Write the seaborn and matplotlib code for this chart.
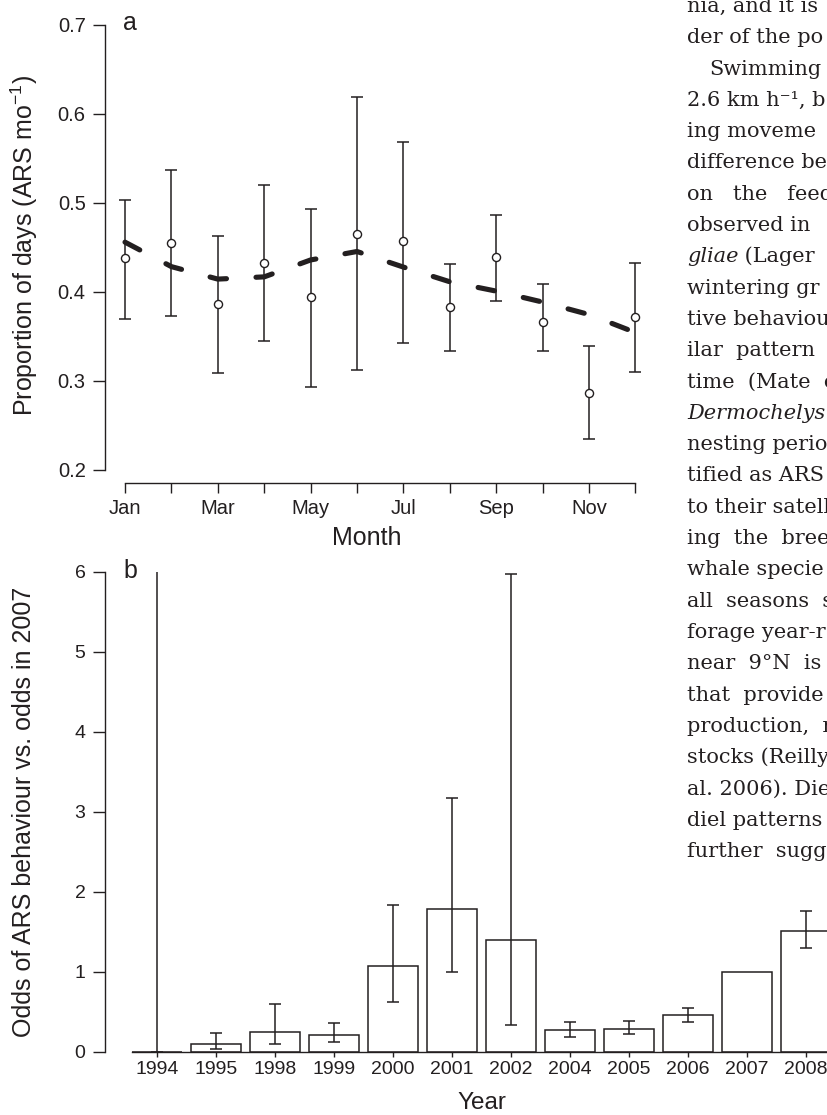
import numpy as np
import seaborn as sns
import matplotlib.pyplot as plt

# panel a: proportion of days in ARS by month
months = ['Jan', 'Feb', 'Mar', 'Apr', 'May', 'Jun', 'Jul', 'Aug', 'Sep', 'Oct', 'Nov', 'Dec']
month_num = list(range(1, 13))
prop_obs = [0.438, 0.455, 0.386, 0.433, 0.394, 0.465, 0.457, 0.383, 0.439, 0.366, 0.287, 0.372]
prop_lo = [0.370, 0.373, 0.309, 0.345, 0.293, 0.312, 0.343, 0.334, 0.390, 0.334, 0.235, 0.310]
prop_hi = [0.503, 0.537, 0.463, 0.520, 0.493, 0.619, 0.569, 0.432, 0.486, 0.409, 0.339, 0.433]
prop_fit = [0.456, 0.4285, 0.4145, 0.417, 0.436, 0.4455, 0.428, 0.4115, 0.401, 0.3887, 0.3747, 0.3545]

# panel b: odds of ARS behaviour relative to 2007
years = ['1994', '1995', '1998', '1999', '2000', '2001', '2002', '2004', '2005', '2006', '2007', '2008']
odds = [0.0, 0.104, 0.25, 0.217, 1.071, 1.783, 1.40, 0.271, 0.292, 0.458, 1.0, 1.5125]
odds_lo = [0.0, 0.042, 0.104, 0.121, 0.625, 1.0, 0.333, 0.1875, 0.225, 0.375, np.nan, 1.296]
odds_hi = [6.5, 0.2375, 0.596, 0.3625, 1.833, 3.17, 5.98, 0.379, 0.392, 0.546, np.nan, 1.7625]  # 1994 runs off the top

# body text of the page to the right of the figure
text_lines = [
    'nia, and it is', 'der of the po', 'Swimming', '2.6 km h\u207b\u00b9, b', 'ing moveme',
    'difference be', 'on   the   feed', 'observed in', ('gliae', ' (Lager'), 'wintering gr',
    'tive behaviou', 'ilar  pattern  o', 'time  (Mate  e', ('Dermochelys', ''), 'nesting perio',
    'tified as ARS', 'to their satell', 'ing  the  bree', 'whale specie', 'all  seasons  s',
    'forage year-r', 'near  9\u00b0N  is', 'that  provide', 'production,  r', 'stocks (Reilly',
    'al. 2006). Die', 'diel patterns', 'further  sugg',
]

ink = '#231f20'
W, H = 827, 1115

sns.set_theme(style='ticks')
plt.rcParams['font.family'] = ['Liberation Sans', 'DejaVu Sans']
plt.rcParams['mathtext.fontset'] = 'custom'
plt.rcParams['mathtext.rm'] = 'Liberation Sans'
plt.rcParams['mathtext.it'] = 'Liberation Sans:italic'
plt.rcParams['lines.scale_dashes'] = False
plt.rcParams['axes.edgecolor'] = ink
plt.rcParams['xtick.color'] = ink
plt.rcParams['ytick.color'] = ink
plt.rcParams['text.color'] = ink
plt.rcParams['axes.labelcolor'] = ink

fig = plt.figure(figsize=(W / 100, H / 100), dpi=100)
fig.patch.set_facecolor('white')


def box(x0, y0, x1, y1):
    # pixel box (top-left origin) -> figure fraction rect
    return [x0 / W, 1 - y1 / H, (x1 - x0) / W, (y1 - y0) / H]


# ---- panel a ----
ax_a = fig.add_axes(box(104.6, 7.2, 655.8, 483))
ax_a.set_facecolor('none')
lo = np.array(prop_obs) - np.array(prop_lo)
hi = np.array(prop_hi) - np.array(prop_obs)
ax_a.errorbar(month_num, prop_obs, yerr=[lo, hi], fmt='none', ecolor=ink,
              elinewidth=1.1, capsize=4.3, capthick=1.1, zorder=2)
sns.lineplot(x=month_num, y=prop_fit, ax=ax_a, color=ink, linewidth=3.7,
             linestyle=(0, (12, 21.3)), dash_capstyle='round', sort=False, zorder=3)
sns.scatterplot(x=month_num, y=prop_obs, ax=ax_a, marker='o', s=34,
                facecolor='white', edgecolor=ink, linewidth=1.0, zorder=4)
ax_a.set_xlim(0.56, 12.44)
ax_a.set_ylim(0.18539, 0.72)
ax_a.set_xticks(month_num)
ax_a.set_xticklabels([m if i % 2 == 0 else '' for i, m in enumerate(months)], fontsize=14.5)
ax_a.set_yticks([0.2, 0.3, 0.4, 0.5, 0.6, 0.7])
ax_a.set_yticklabels(['0.2', '0.3', '0.4', '0.5', '0.6', '0.7'], fontsize=14.5)
ax_a.tick_params(axis='x', length=7.2, width=1.0, pad=4)
ax_a.tick_params(axis='y', length=8.6, width=1.0, pad=5)
sns.despine(ax=ax_a)
ax_a.spines['left'].set_bounds(0.2, 0.7)
ax_a.spines['bottom'].set_bounds(1, 12)
for s in ('left', 'bottom'):
    ax_a.spines[s].set_linewidth(1.0)
ax_a.set_xlabel('Month', fontsize=18)
ax_a.xaxis.label.set_va('baseline')
ax_a.xaxis.set_label_coords((366.5 - 104.6) / 551.2, (483 - 545) / 475.8)
ax_a.set_ylabel(r'Proportion of days (ARS mo$^{-1}$)', fontsize=18)
ax_a.yaxis.label.set_va('center')
ax_a.yaxis.set_label_coords((24 - 104.6) / 551.2, 0.5)
fig.text(123 / W, 1 - 30 / H, 'a', fontsize=18, va='baseline')

# ---- panel b ----
ax_b = fig.add_axes(box(105, 572, 841.4, 1052))
ax_b.set_facecolor('none')
sns.barplot(x=years, y=odds, ax=ax_b, color='white', edgecolor=ink, linewidth=1.1,
            width=0.85, errorbar=None, saturation=1, zorder=2)
pos = np.arange(len(years))
ok = ~np.isnan(np.array(odds_lo))
ob = np.array(odds)
ax_b.errorbar(pos[ok], ob[ok], yerr=[ob[ok] - np.array(odds_lo)[ok], np.array(odds_hi)[ok] - ob[ok]],
              fmt='none', ecolor=ink, elinewidth=1.1, capsize=4.3, capthick=1.1, zorder=3)
ax_b.set_xlim(-0.881, 11.6)
ax_b.set_ylim(0, 6)
ax_b.set_xticks(pos)
ax_b.set_xticklabels(years, fontsize=14)
ax_b.set_yticks(range(7))
ax_b.set_yticklabels([str(v) for v in range(7)], fontsize=14)
ax_b.tick_params(axis='x', length=3.8, width=1.0, pad=2.5)
ax_b.tick_params(axis='y', length=9.0, width=1.0, pad=5)
sns.despine(ax=ax_b)
ax_b.spines['left'].set_bounds(0, 6)
ax_b.spines['bottom'].set_bounds(-0.425, 11.6)
for s in ('left', 'bottom'):
    ax_b.spines[s].set_linewidth(1.0)
ax_b.set_xlabel('Year', fontsize=17.5)
ax_b.xaxis.label.set_va('baseline')
ax_b.xaxis.set_label_coords((482 - 105) / 736.4, (1052 - 1109) / 480)
ax_b.set_ylabel('Odds of ARS behaviour vs. odds in 2007', fontsize=18)
ax_b.yaxis.label.set_va('center')
ax_b.yaxis.set_label_coords((24 - 105) / 736.4, 0.5)
fig.text(123 / W, 1 - 578 / H, 'b', fontsize=18, va='baseline')

# ---- running text on the right ----
renderer = fig.canvas.get_renderer()
serif = dict(family='DejaVu Serif', fontsize=15, va='baseline', color=ink)
for i, line in enumerate(text_lines):
    y = 1 - (12 + 31.3 * i) / H
    x = 709 if i == 2 else 687
    if isinstance(line, tuple):
        t = fig.text(x / W, y, line[0], style='italic', **serif)
        x1 = t.get_window_extent(renderer).x1
        if line[1]:
            fig.text(x1 / W, y, line[1], **serif)
    else:
        fig.text(x / W, y, line, **serif)

fig.savefig('out.png', dpi=100)
